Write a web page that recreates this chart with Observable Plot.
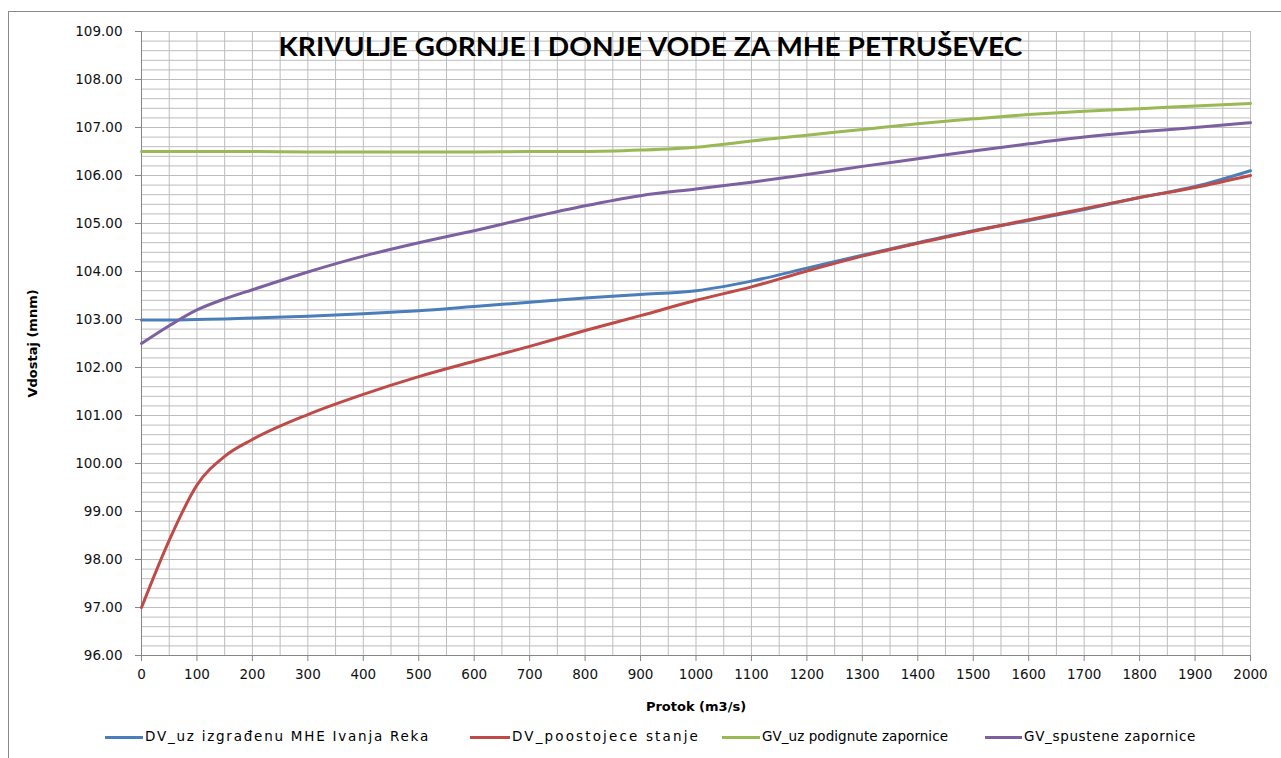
<!DOCTYPE html>
<html>
<head>
<meta charset="utf-8">
<script src="https://cdn.jsdelivr.net/npm/d3@7"></script>
<script src="https://cdn.jsdelivr.net/npm/@observablehq/plot@0.6"></script>
<style>
  html, body { margin: 0; padding: 0; background: #fff; width: 1281px; height: 758px; overflow: hidden; }
  #frame { position: absolute; left: 8px; top: 11px; width: 1400px; height: 900px;
           border-left: 1px solid #8a8a8a; border-top: 1px solid #8a8a8a; }
  #chart { position: absolute; left: 0; top: 0; }
  .leg { position: absolute; font-family: "DejaVu Sans", sans-serif; font-size: 13.5px; color: #000; white-space: nowrap; line-height: 1; }
  .sw { position: absolute; height: 3px; }
</style>
</head>
<body>
<div id="frame"></div>
<div id="chart"></div>
<div id="legend"></div>
<script>
const title = "KRIVULJE GORNJE I DONJE VODE ZA MHE PETRUŠEVEC";
const xLabel = "Protok (m3/s)";
const yLabel = "Vdostaj (mnm)";
const flows = [0, 50, 100, 150, 200, 300, 400, 500, 600, 700, 800, 900, 1000, 1100, 1200, 1300, 1400, 1500, 1600, 1700, 1800, 1900, 2000];
const dvMhe = [102.99, 102.99, 103.0, 103.01, 103.03, 103.07, 103.12, 103.18, 103.27, 103.36, 103.45, 103.52, 103.6, 103.8, 104.07, 104.34, 104.6, 104.85, 105.06, 105.29, 105.54, 105.77, 106.1];
const dvPostojece = [97.0, 98.4, 99.55, 100.15, 100.5, 101.02, 101.44, 101.81, 102.13, 102.44, 102.77, 103.08, 103.4, 103.68, 104.01, 104.32, 104.59, 104.84, 105.08, 105.31, 105.54, 105.75, 106.0];
const gvPodignute = [106.5, 106.5, 106.5, 106.5, 106.5, 106.49, 106.49, 106.49, 106.49, 106.5, 106.5, 106.53, 106.59, 106.72, 106.84, 106.96, 107.08, 107.18, 107.27, 107.34, 107.39, 107.45, 107.5];
const gvSpustene = [102.5, 102.87, 103.2, 103.43, 103.62, 103.99, 104.32, 104.6, 104.85, 105.12, 105.37, 105.58, 105.72, 105.86, 106.02, 106.19, 106.35, 106.51, 106.66, 106.8, 106.91, 107.0, 107.1];
const seriesNames = ["DV_uz izgrađenu MHE Ivanja Reka", "DV_poostojece stanje", "GV_uz podignute zapornice", "GV_spustene zapornice"];
const seriesColors = ["#4a7ebb", "#be4b48", "#98b954", "#7d60a0"];
const seriesValues = [dvMhe, dvPostojece, gvPodignute, gvSpustene];
const xTicks = d3.range(0, 2001, 100);
const yTicks = d3.range(96, 109.001, 1);
const xGrid = d3.range(0, 2001, 50);
const yGrid = d3.range(0, 66).map(i => 96 + i * 0.2);

const rows = seriesValues.map((vals, s) => flows.map((f, i) => ({x: f, y: vals[i], s})));

const plot = Plot.plot({
  width: 1281,
  height: 718,
  marginLeft: 141,
  marginRight: 31,
  marginTop: 31,
  marginBottom: 63,
  style: {fontFamily: "DejaVu Sans, sans-serif", fontSize: "13.5px", background: "transparent", overflow: "visible"},
  x: {domain: [0, 2000]},
  y: {domain: [96, 109]},
  marks: [
    Plot.gridX(xGrid, {stroke: "#bdbdbd", strokeOpacity: 1, strokeWidth: 1}),
    Plot.gridY(yGrid, {stroke: "#bdbdbd", strokeOpacity: 1, strokeWidth: 1}),
    Plot.ruleX([0], {stroke: "#868686"}),
    Plot.ruleY([96], {stroke: "#868686"}),
    Plot.axisX(xTicks, {tickSize: 6, tickPadding: 8, stroke: "#868686", label: null, fill: "#111", fontSize: 13.5, tickFormat: d3.format("d")}),
    Plot.axisY(yTicks, {tickSize: 6, tickPadding: 13, stroke: "#868686", label: null, tickFormat: d3.format(".2f"), fill: "#111", fontSize: 13.5}),
    ...rows.map((r, s) => Plot.line(r, {x: "x", y: "y", stroke: seriesColors[s], strokeWidth: 3, curve: "monotone-x"})),
    Plot.text([title], {frameAnchor: "top-left", textAnchor: "start", lineAnchor: "top", dx: 137, dy: 5, fontSize: 27, fontWeight: "bold", fontFamily: "Lato, sans-serif", fill: "#000", className: "ttl"}),
    Plot.text([xLabel], {frameAnchor: "bottom", lineAnchor: "middle", dy: 51, fontSize: 13, fontWeight: "bold", fill: "#000"}),
    Plot.text([yLabel], {frameAnchor: "left", textAnchor: "middle", lineAnchor: "middle", rotate: -90, dx: -109, fontSize: 13, fontWeight: "bold", fill: "#000"})
  ]
});
document.getElementById("chart").appendChild(plot);
d3.select(plot).select("g.ttl text").attr("textLength", 744).attr("lengthAdjust", "spacingAndGlyphs");

// legend below the chart: [swatch start, text start, text end]
const legendPos = [[105, 145, 430], [470, 512, 700], [722, 762, 948], [985, 1024, 1196]];
const leg = document.getElementById("legend");
seriesNames.forEach((name, i) => {
  const [lx, tx, te] = legendPos[i];
  const sw = document.createElement("div");
  sw.className = "sw";
  sw.style.left = lx + "px";
  sw.style.width = (tx - lx - 2) + "px";
  sw.style.top = "736px";
  sw.style.background = seriesColors[i];
  leg.appendChild(sw);
  const t = document.createElement("div");
  t.className = "leg";
  t.style.left = tx + "px";
  t.style.top = "730px";
  t.textContent = name;
  leg.appendChild(t);
  const w = t.getBoundingClientRect().width;
  t.style.letterSpacing = ((te - tx - w) / name.length) + "px";
});
</script>
</body>
</html>
